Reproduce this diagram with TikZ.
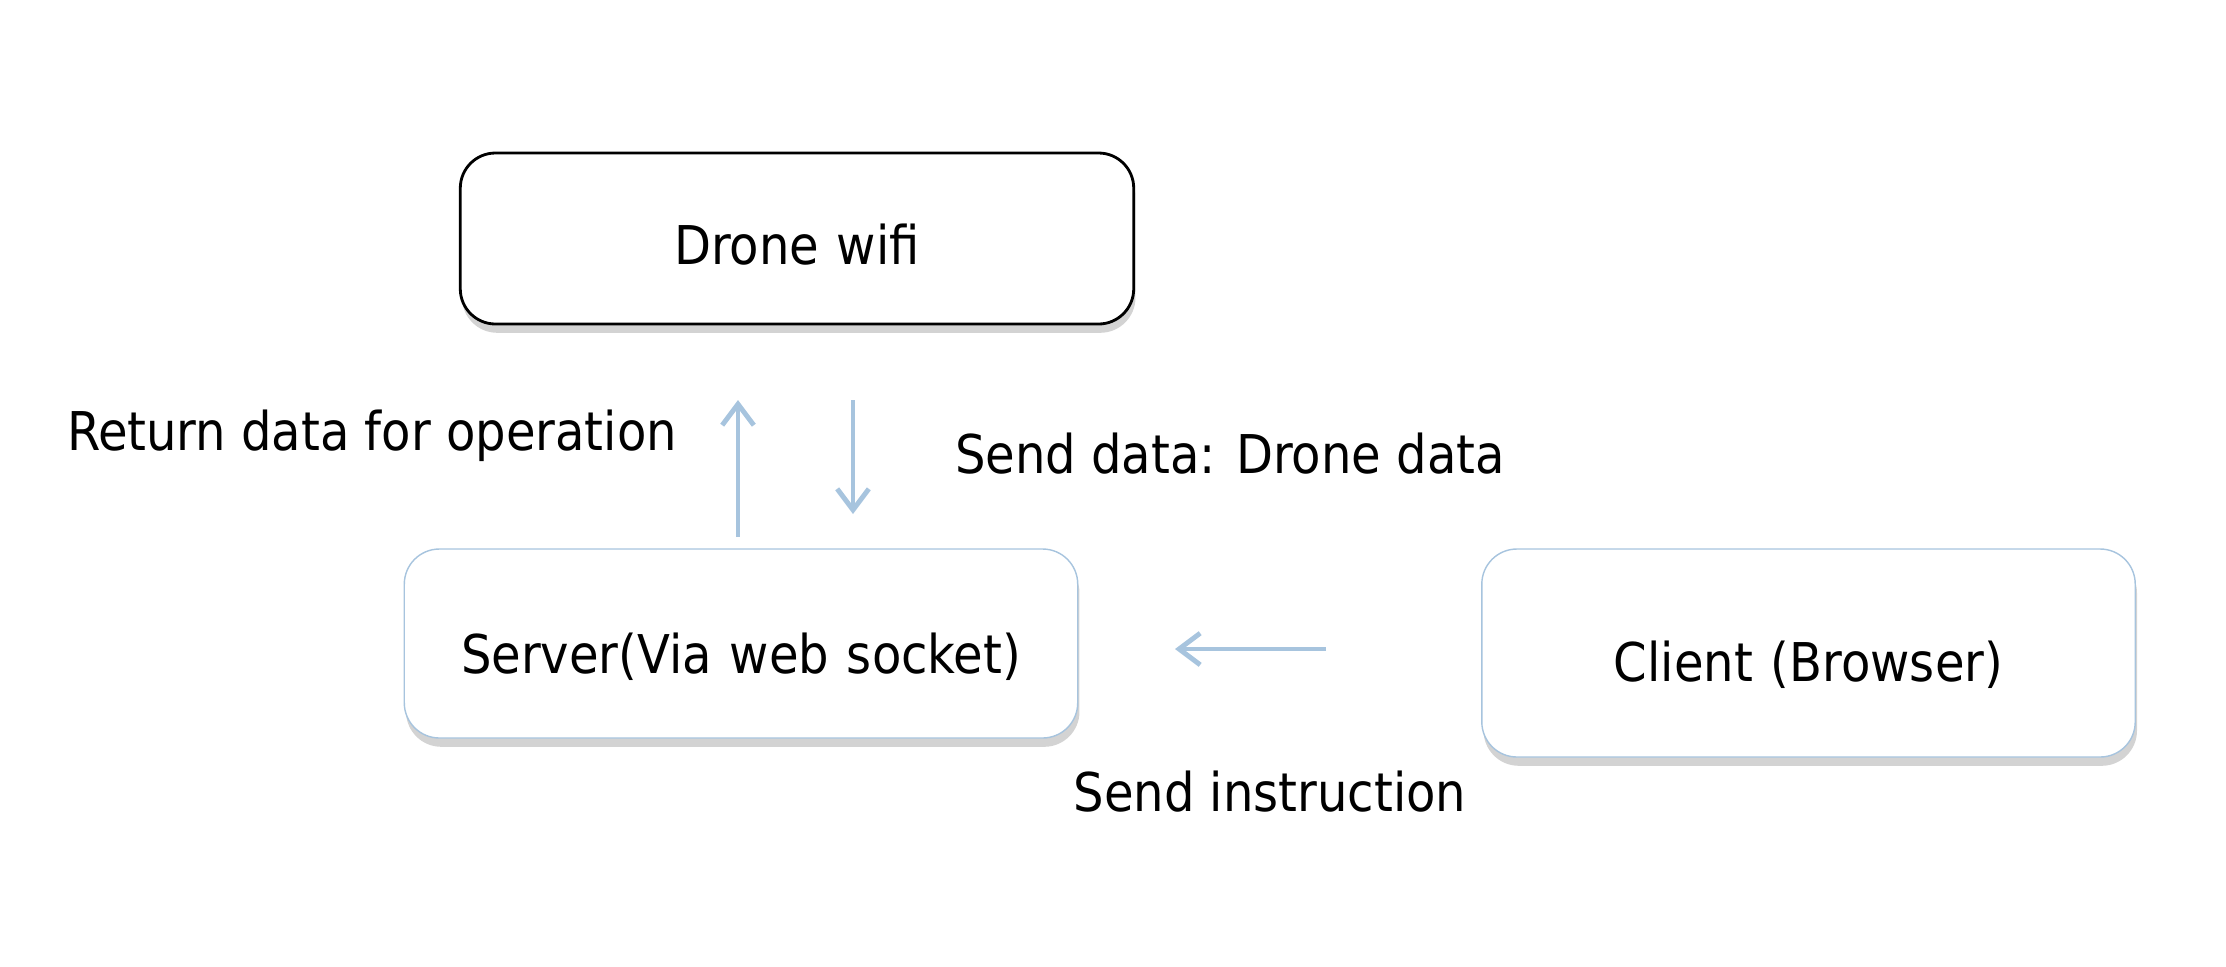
\documentclass[tikz,border=0pt]{standalone}
\usepackage{fontspec}
\setmainfont{DejaVu Sans Condensed}
\usetikzlibrary{shadows,arrows.meta}

\definecolor{linkblue}{RGB}{167,196,222}

\tikzset{
  box/.style={rounded corners=10pt, fill=white, minimum height=1.8cm, text width=6.6cm, align=center, text depth=3pt,
    drop shadow={shadow xshift=0.5pt, shadow yshift=-2.5pt, opacity=0.35}},
  link/.style={linkblue, line width=1.4pt, -{Straight Barb[length=6pt,width=9pt,line width=1.4pt]}},
  lbl/.style={font=\fontsize{15.2}{18}\selectfont}
}

\begin{document}
\begin{tikzpicture}[font=\fontsize{15.2}{18}\selectfont]
\useasboundingbox (0,0) rectangle (22.26,-9.66);
 \node[box, draw=black, thick, minimum height=1.71cm, text width=6.5cm, text height=17.7pt] (drone) at (7.97,-2.385) {Drone wifi};
 \node[box, draw=linkblue, minimum height=1.89cm, text width=6.5cm, text height=19.9pt] (server) at (7.41,-6.435) {Server(Via web socket)};
 \node[box, draw=linkblue, minimum height=2.08cm, text width=6.3cm, text height=19.1pt] (client) at (18.085,-6.53) {Client (Browser)};
 \coordinate (up1) at (7.38,-5.37);
 \coordinate (up2) at (7.38,-4.00);
 \coordinate (dn1) at (8.53,-4.00);
 \coordinate (dn2) at (8.53,-5.14);
 \coordinate (lt1) at (13.26,-6.49);
 \coordinate (lt2) at (11.75,-6.49);
 \draw[link] (up1) -- (up2);
 \draw[link] (dn1) -- (dn2);
 \draw[link] (lt1) -- (lt2);
 \node[lbl] (ret) at (3.72,-4.36) {Return data for operation};
 \node[lbl] (snd) at (12.3,-4.54) {Send data: Drone data};
 \node[lbl] (ins) at (12.7,-7.92) {Send instruction};
%  \draw (server) -- (client);
\end{tikzpicture}
\end{document}
